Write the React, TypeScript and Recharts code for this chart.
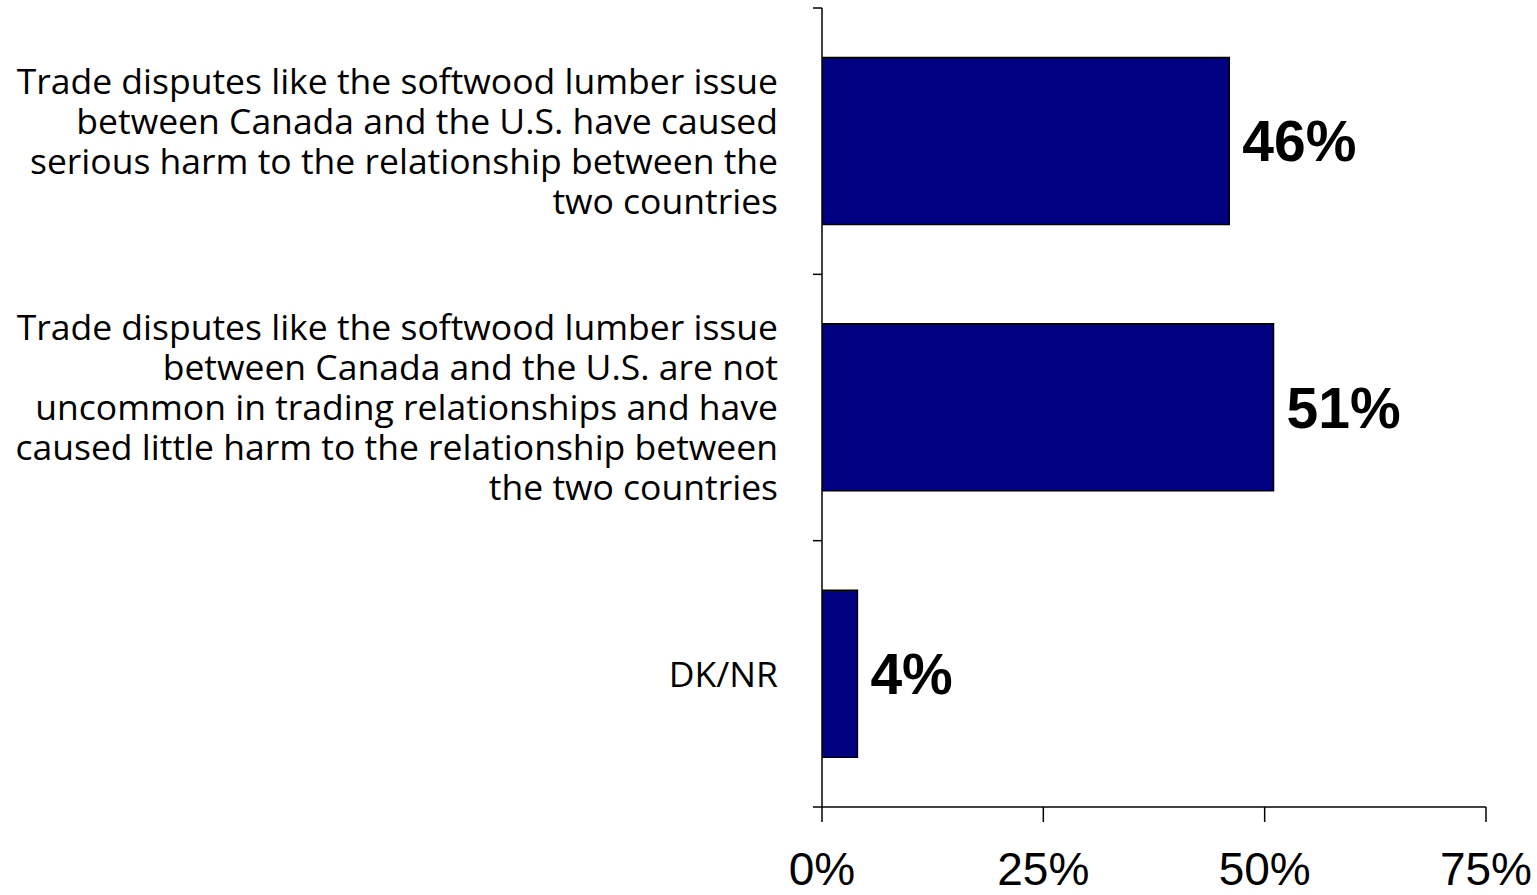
import React from "react";
import { BarChart, Bar, XAxis, YAxis, LabelList } from "recharts";

const categories: string[] = [
  "Trade disputes like the softwood lumber issue\nbetween Canada and the U.S. have caused\nserious harm to the relationship between the\ntwo countries",
  "Trade disputes like the softwood lumber issue\nbetween Canada and the U.S. are not\nuncommon in trading relationships and have\ncaused little harm to the relationship between\nthe two countries",
  "DK/NR",
];
const values: number[] = [46, 51, 4];
const xTicks: number[] = [0, 25, 50, 75];

const data = categories.map((c, i) => ({ category: c, value: values[i] }));

const LABEL_FONT = "'Open Sans', 'Noto Sans', sans-serif";
const ARIAL = "'Liberation Sans', Arial, sans-serif";
const Y_TICK_SIZE = 9;
const Y_TICK_MARGIN = 35;

const CategoryTick = (props: any) => {
  const { x, y, payload, height, visibleTicksCount, index } = props;
  const lines = String(payload.value).split("\n");
  const lh = 40;
  const startY = y - ((lines.length - 1) / 2) * lh;
  const axisX = x + Y_TICK_SIZE + Y_TICK_MARGIN;
  const band = Number(height) / visibleTicksCount;
  const top = y - band / 2;
  const bottom = y + band / 2;
  return (
    <g>
      {Number.isFinite(band) && (
        <line x1={axisX - Y_TICK_SIZE} x2={axisX} y1={top} y2={top} stroke="#000" strokeWidth={1.5} />
      )}
      {Number.isFinite(band) && index === visibleTicksCount - 1 && (
        <line x1={axisX - Y_TICK_SIZE} x2={axisX} y1={bottom} y2={bottom} stroke="#000" strokeWidth={1.5} />
      )}
      <text
        x={x}
        y={startY}
        textAnchor="end"
        fontFamily={LABEL_FONT}
        fontSize={35.5}
        fill="#000"
      >
        {lines.map((l, i) => (
          <tspan key={i} x={x} y={startY + i * lh} dy="0.36em">
            {l}
          </tspan>
        ))}
      </text>
    </g>
  );
};

const XTick = (props: any) => {
  const { x, payload } = props;
  return (
    <text
      x={x}
      y={885}
      textAnchor="middle"
      fontFamily={ARIAL}
      fontSize={46}
      fill="#000"
    >
      {payload.value + "%"}
    </text>
  );
};

export default function App() {
  return (
    <div style={{ position: "absolute", left: 0, top: 0, background: "#fff" }}>
      <BarChart
        width={1537}
        height={895}
        data={data}
        layout="vertical"
        margin={{ top: 8, right: 51, bottom: 0, left: 0 }}
        barCategoryGap="18.6%"
      >
        <YAxis
          type="category"
          dataKey="category"
          width={822}
          axisLine={{ stroke: "#000", strokeWidth: 1.5 }}
          tickLine={false}
          tickSize={Y_TICK_SIZE}
          tickMargin={Y_TICK_MARGIN}
          tick={<CategoryTick />}
          interval={0}
        />
        <XAxis
          type="number"
          domain={[0, 75]}
          ticks={xTicks}
          allowDataOverflow
          interval={0}
          tickSize={15}
          tickMargin={0}
          axisLine={{ stroke: "#000", strokeWidth: 1.5 }}
          tickLine={{ stroke: "#000", strokeWidth: 1.5 }}
          tick={<XTick />}
          height={88}
        />
        <Bar
          dataKey="value"
          fill="#000080"
          stroke="#000"
          strokeWidth={1.5}
          isAnimationActive={false}
        >
          <LabelList
            dataKey="value"
            position="right"
            offset={13}
            formatter={(v: any) => v + "%"}
            style={{ fontFamily: ARIAL, fontSize: 57, fontWeight: "bold", fill: "#000" }}
          />
        </Bar>
      </BarChart>
    </div>
  );
}
